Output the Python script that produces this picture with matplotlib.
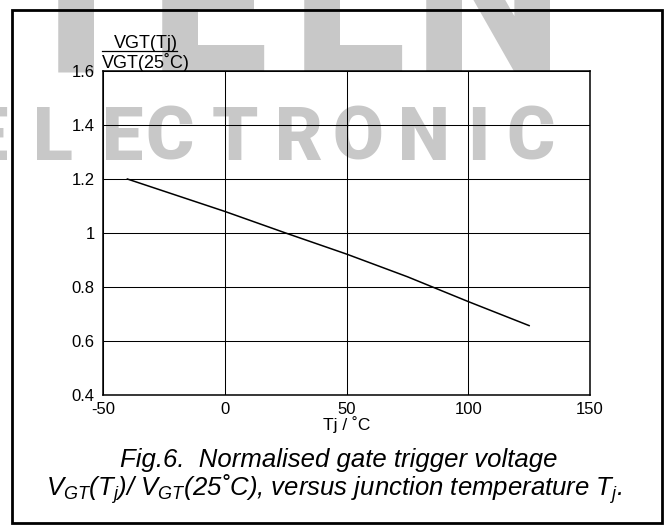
import matplotlib
matplotlib.use('Agg')
import matplotlib.pyplot as plt
from matplotlib.lines import Line2D
from matplotlib.patches import Rectangle

plt.rcParams['font.family'] = ['Liberation Sans', 'DejaVu Sans']
plt.rcParams['mathtext.fontset'] = 'custom'
plt.rcParams['mathtext.it'] = 'Liberation Sans:italic'
plt.rcParams['mathtext.rm'] = 'Liberation Sans:italic'

# ---- data ----
tj = [-40, 0, 25, 50, 75, 100, 125]
ratio = [1.20, 1.08, 1.00, 0.922, 0.838, 0.746, 0.657]
x_ticks = [-50, 0, 50, 100, 150]
x_tick_labels = ['-50', '0', '50', '100', '150']
y_ticks = [0.4, 0.6, 0.8, 1.0, 1.2, 1.4, 1.6]
y_tick_labels = ['0.4', '0.6', '0.8', '1', '1.2', '1.4', '1.6']
x_label = 'Tj / ˚C'
y_label_num = 'VGT(Tj)'
y_label_den = 'VGT(25˚C)'
caption_1 = 'Fig.6.  Normalised gate trigger voltage'
caption_2 = r'$V_{GT}(T_j)$/ $V_{GT}$(25˚C), versus junction temperature $T_j$.'
wm_top = ['T', 'E', 'L', 'N']
wm_row = list('ELECTRONIC')

W, H = 665, 525
fig = plt.figure(figsize=(W / 100, H / 100), dpi=100)
fig.patch.set_facecolor('white')


def fx(px):
    return px / W


def fy(py):
    return 1 - py / H


# ---- watermark ----
wm_color = '#c8c8c8'
wm_font = ['Roboto', 'Liberation Sans', 'DejaVu Sans']
top_x = [76, 209, 349, 488]
for ch, x in zip(wm_top, top_x):
    fig.text(fx(x), fy(72), ch, fontsize=150, fontweight=900, family=wm_font,
             color=wm_color, ha='center', va='baseline', zorder=-5)
row_x = [-12, 53, 123, 170, 235, 299, 358, 424, 478, 531]
for ch, x in zip(wm_row, row_x):
    fig.text(fx(x), fy(160), ch, fontsize=53, fontweight=900, family=wm_font,
             color=wm_color, ha='center', va='baseline', zorder=-5)

# ---- axes ----
ax = fig.add_axes([fx(103), fy(395), fx(590) - fx(103), (395 - 71) / H])
ax.set_facecolor('none')
ax.plot(tj, ratio, color='black', lw=1.1, zorder=3)
ax.set_xlim(-50, 150)
ax.set_ylim(0.4, 1.6)
ax.set_xticks(x_ticks, x_tick_labels)
ax.set_yticks(y_ticks, y_tick_labels)
ax.tick_params(length=0, labelsize=12)
ax.tick_params(axis='x', pad=5)
ax.tick_params(axis='y', pad=6)
ax.grid(True, color='black', lw=0.75)
for s in ax.spines.values():
    s.set_linewidth(1.1)
ax.set_xlabel(x_label, fontsize=12.5, labelpad=-1)

# ---- y label as fraction ----
fig.text(fx(146), fy(48), y_label_num, fontsize=13, ha='center', va='baseline')
fig.text(fx(146), fy(68), y_label_den, fontsize=13, ha='center', va='baseline')
fig.add_artist(Line2D([fx(102), fx(177)], [fy(51), fy(51)], color='black', lw=0.9,
                      transform=fig.transFigure))

# ---- caption ----
fig.text(fx(339), fy(467), caption_1, fontsize=18.5, style='italic', ha='center', va='baseline')
fig.text(fx(334), fy(496), caption_2, fontsize=18.5, style='italic', ha='center', va='baseline')

# ---- border ----
fig.add_artist(Rectangle((fx(12), fy(523)), fx(662) - fx(12), (523 - 10) / H, fill=False,
                         lw=2, edgecolor='black', transform=fig.transFigure, zorder=10))

fig.savefig('out.png', dpi=100)
